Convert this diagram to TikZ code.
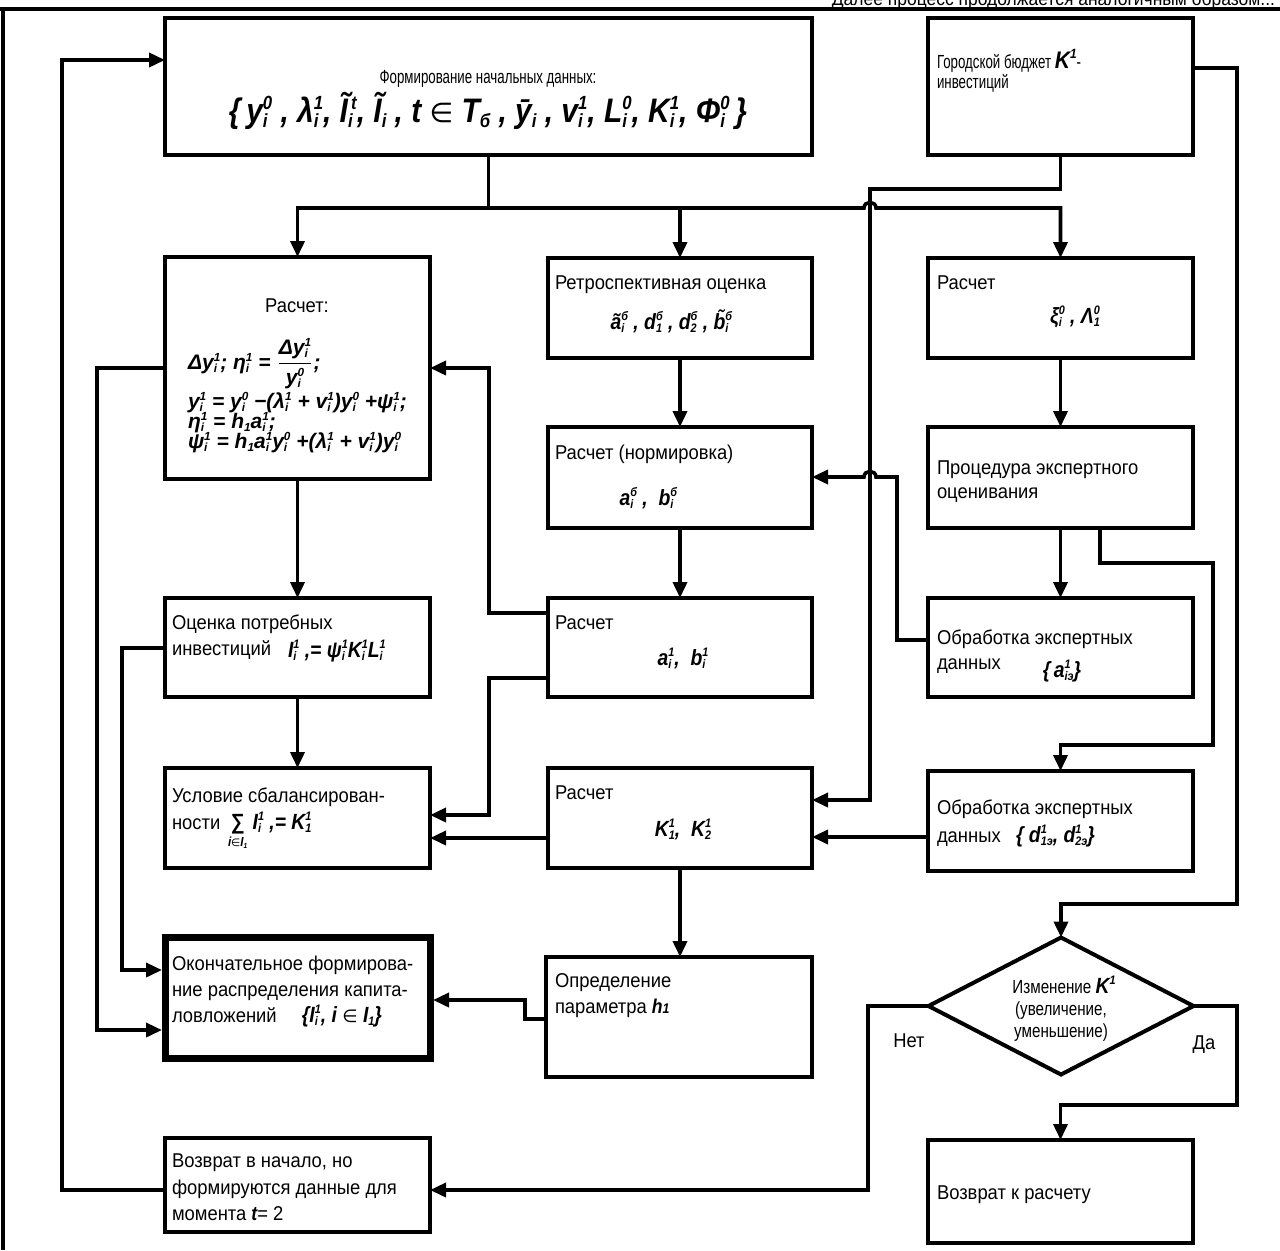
\documentclass[tikz,border=0pt]{standalone}
\usepackage{fontspec}
\setmainfont{Liberation Sans}[FakeStretch=0.92]
\newfontfamily\fm{Liberation Sans}[FakeStretch=0.88]
\newfontfamily\fmw{Liberation Sans}
\newfontfamily\narrowf{Liberation Sans}[FakeStretch=0.7]
\newfontfamily\midf{Liberation Sans}[FakeStretch=0.8]
\newfontfamily\dv{DejaVu Sans}
\usepackage{graphicx}
\usetikzlibrary{arrows.meta,calc,shapes.geometric}

\newsavebox\supbx
\newsavebox\subbx
\newcommand\V[3]{#1\sbox\supbx{\scalebox{.56}{#2}}\sbox\subbx{\scalebox{.56}{#3}}\rlap{\raisebox{.38em}{\usebox\supbx}}\rlap{\raisebox{-.17em}{\usebox\subbx}}\ifdim\wd\supbx>\wd\subbx\hspace{\wd\supbx}\else\hspace{\wd\subbx}\fi}
\newcommand\F{\fm\bfseries\itshape}
\newcommand\inn{{\dv\mdseries\upshape\scalebox{.8}{∈}}}
\newcommand\mkbox[6][]{\node[box,#1,minimum width={(#4-#2)*0.5pt},minimum height={(#5-#3)*0.5pt}] (#6) at ({(#2+#4)/2},{(#3+#5)/2}) {};}

\tikzset{
  box/.style={draw, line width=2pt, inner sep=0pt, outer sep=0pt},
  txt/.style={inner sep=0pt, outer sep=0pt, font=\fontsize{10}{13}\selectfont},
  small/.style={inner sep=0pt, outer sep=0pt, font=\narrowf\fontsize{9.5}{11}\selectfont},
  dia/.style={inner sep=0pt, outer sep=0pt, font=\midf\fontsize{9.5}{11}\selectfont},
  frm/.style={inner sep=0pt, outer sep=0pt, font=\F\fontsize{11}{13}\selectfont},
  frmc/.style={inner sep=0pt, outer sep=0pt, font=\fmw\bfseries\itshape\fontsize{10.5}{13}\selectfont},
  line/.style={line width=1.8pt},
  arr/.style={line width=1.8pt, -{Triangle[length=8pt,width=7pt]}},
}

\begin{document}
\begin{tikzpicture}[x=0.5pt,y=-0.5pt]
\useasboundingbox (0,0) rectangle (1280,1250);
\fill[white] (0,0) rectangle (1280,1250);

% frame
\draw[line width=2pt] (0,9) -- (1280,9);
\draw[line width=1.6pt] (3,9) -- (3,1250);
\node[txt, font=\fontsize{9.5}{11}\selectfont, anchor=base east] (cut) at (1275,5) {Далее процесс продолжается аналогичным образом...};

% boxes
\mkbox{165}{18}{812}{155}{A}
\mkbox{928}{18}{1193}{155}{B}
\mkbox{165}{257}{430}{479}{C}
\mkbox{548}{258}{812}{358}{D}
\mkbox{928}{258}{1193}{358}{E}
\mkbox{548}{427}{812}{528}{F}
\mkbox{928}{427}{1193}{528}{G}
\mkbox{165}{598}{430}{697}{H}
\mkbox{548}{598}{812}{697}{I}
\mkbox{928}{598}{1193}{697}{J}
\mkbox{165}{768}{430}{868}{K}
\mkbox{548}{768}{812}{868}{L}
\mkbox{928}{771}{1193}{871}{M}
\mkbox[line width=3.5pt]{165}{937}{430}{1058}{N}
\mkbox{546}{957}{812}{1077}{O}
\mkbox{165}{1138}{430}{1232}{Q}
\mkbox{928}{1140}{1193}{1243}{R}
\node[draw, diamond, line width=2pt, minimum width=132.5pt, minimum height=68.5pt, inner sep=0pt, outer sep=0pt] (P) at (1061,1006) {};

% texts A
\node[small, anchor=base] (tA1) at (488,83) {Формирование начальных данных:};
\node[frm, font=\F\fontsize{17}{20}\selectfont, anchor=base] (tA2) at (488,122)
  {\{\,\V{y}{0}{i} , \V{λ}{1}{i}, \V{Ĩ}{\,t}{i}, \V{Ĩ}{}{i} , t \inn{} \V{T}{}{б} , \V{\=y}{}{i} , \V{v}{1}{i}, \V{L}{0}{i}, \V{K}{1}{i}, \V{Φ}{0}{i}\,\}};
% B
\node[small, anchor=base west] (tB1) at (937,68) {Городской бюджет {\F\fontsize{12}{13}\selectfont\V{K}{1}{}}-};
\node[small, anchor=base west] (tB2) at (937,88) {инвестиций};
% C
\node[txt, anchor=base] (tC0) at (297,312) {Расчет:};
\node[frmc, anchor=base west] (tC1) at (188,369) {\V{Δy}{1}{i}; \V{η}{1}{i} = $\displaystyle\frac{\mbox{\V{Δy}{1}{i}}}{\mbox{\V{y}{0}{i}}}$;};
\node[frmc, anchor=base west] (tC2) at (188,408) {\V{y}{1}{i} = \V{y}{0}{i} −(\V{λ}{1}{i} + \V{v}{1}{i})\V{y}{0}{i} +\V{ψ}{1}{i};};
\node[frmc, anchor=base west] (tC3) at (188,428) {\V{η}{1}{i} = \V{h}{}{1}\V{a}{1}{i};};
\node[frmc, anchor=base west] (tC4) at (188,448) {\V{ψ}{1}{i} = \V{h}{}{1}\V{a}{1}{i}\V{y}{0}{i} +(\V{λ}{1}{i} + \V{v}{1}{i})\V{y}{0}{i}};
% D
\node[txt, anchor=base west] (tD1) at (555,289) {Ретроспективная оценка};
\node[frm, anchor=base] (tD2) at (668,329) {\V{ã}{б}{i} , \V{d}{б}{1} , \V{d}{б}{2} , \V{\~b}{б}{i}};
% E
\node[txt, anchor=base west] (tE1) at (937,289) {Расчет};
\node[frm, anchor=base] (tE2) at (1072,323) {\V{ξ}{0}{i} , \V{Λ}{0}{1}};
% F
\node[txt, anchor=base west] (tF1) at (555,459) {Расчет (нормировка)};
\node[frm, anchor=base] (tF2) at (645,505) {\V{a}{б}{i} ,\ \ \V{b}{б}{i}};
% G
\node[txt, anchor=base west] (tG1) at (937,474) {Процедура экспертного};
\node[txt, anchor=base west] (tG2) at (937,498) {оценивания};
% H
\node[txt, anchor=base west] (tH1) at (172,629) {Оценка потребных};
\node[txt, anchor=base west] (tH2) at (172,655) {инвестиций};
\node[frm, anchor=base west] (tH3) at (288,657) {\V{I}{1}{i} ,= \V{ψ}{1}{i}\V{K}{1}{i}\V{L}{1}{i}};
% I
\node[txt, anchor=base west] (tI1) at (555,629) {Расчет};
\node[frm, anchor=base] (tI2) at (680,665) {\V{a}{1}{i},\ \ \V{b}{1}{i}};
% J
\node[txt, anchor=base west] (tJ1) at (937,644) {Обработка экспертных};
\node[txt, anchor=base west] (tJ2) at (937,669) {данных};
\node[frm, anchor=base] (tJ3) at (1062,677) {\{\,\V{a}{1}{iэ}\}};
% K
\node[txt, anchor=base west] (tK1) at (172,802) {Условие сбалансирован-};
\node[txt, anchor=base west] (tK2) at (172,829) {ности};
\node[frm, anchor=base west] (tK3) at (228,829) {$\mathop{\mbox{∑}}\limits_{\mbox{\scalebox{.6}{i\inn\V{I}{}{1}}}}$ \V{I}{1}{i} ,= \V{K}{1}{1}};
% L
\node[txt, anchor=base west] (tL1) at (555,799) {Расчет};
\node[frm, anchor=base] (tL2) at (680,836) {\V{K}{1}{1},\ \ \V{K}{1}{2}};
% M
\node[txt, anchor=base west] (tM1) at (937,814) {Обработка экспертных};
\node[txt, anchor=base west] (tM2) at (937,842) {данных\ \ \ {\F\fontsize{11}{13}\selectfont\{ \V{d}{1}{1э}, \V{d}{1}{2э}\}}};
% N
\node[txt, anchor=base west] (tN1) at (172,970) {Окончательное формирова-};
\node[txt, anchor=base west] (tN2) at (172,996) {ние распределения капита-};
\node[txt, anchor=base west] (tN3) at (172,1022) {ловложений\quad\ {\F\fontsize{11}{13}\selectfont\{\V{I}{1}{i}, i \inn{} \V{I}{}{1}\}}};
% O
\node[txt, anchor=base west] (tO1) at (555,987) {Определение};
\node[txt, anchor=base west] (tO2) at (555,1013) {параметра {\F h\scalebox{.7}{1}}};
% Q
\node[txt, anchor=base west] (tQ1) at (172,1167) {Возврат в начало, но};
\node[txt, anchor=base west] (tQ2) at (172,1194) {формируются данные для};
\node[txt, anchor=base west] (tQ3) at (172,1220) {момента {\F t}= 2};
% R
\node[txt, anchor=base west] (tR1) at (937,1199) {Возврат к расчету};
% P
\node[dia, anchor=base] (tP1) at (1061,993) {Изменение {\F\fontsize{11}{12}\selectfont\V{K}{1}{}}};
\node[dia, anchor=base] (tP2) at (1061,1015) {(увеличение,};
\node[dia, anchor=base] (tP3) at (1061,1037) {уменьшение)};
\node[txt, anchor=base] (net) at (909,1047) {Нет};
\node[txt, anchor=base] (da) at (1204,1049) {Да};

% connectors
\draw[arr] ($(Q.north west)+(0,52)$) -- (62,1190) -- (62,60) -- ($(A.north west)+(0,42)$);
\draw[line] (A.south) -- ++(0,53) coordinate (s1);
\draw[arr] (s1) -| (C.north);
\draw[arr] (s1) -| (D.north);
\draw[arr] (s1) -- (864,208) to[out=90,in=90,looseness=1.6] (876,208) -| (E.north);
\draw[arr] (B.south) |- (870,189) -- (870,800) -- ($(L.north east)+(0,32)$);
\draw[arr] (D.south) -- (F.north);
\draw[arr] (E.south) -- (G.north);
\draw[arr] (F.south) -- (I.north);
\draw[arr] (G.south) -- (J.north);
\draw[arr] ($(G.south west)+(172,0)$) -- (1100,563) -- (1213,563) -- (1213,745) -| (M.north);
\draw[arr] ($(J.north west)+(0,42)$) -- (897,640) -- (897,477) -- (876,477) to[out=90,in=90,looseness=1.6] (864,477) -- ($(F.north east)+(0,50)$);
\draw[arr] ($(I.north west)+(0,15)$) -- (489,613) -- (489,368) -- ($(C.north east)+(0,111)$);
\draw[arr] ($(I.north west)+(0,80)$) -- (489,678) -- (489,815) -- ($(K.north east)+(0,47)$);
\draw[arr] ($(L.north west)+(0,70)$) -- ($(K.north east)+(0,70)$);
\draw[arr] ($(M.north west)+(0,66)$) -- ($(L.north east)+(0,69)$);
\draw[arr] (L.south) -- (O.north -| L.south);
\draw[arr] ($(O.north west)+(0,62)$) -- (525,1019) -- (525,1000) -- ($(N.north east)+(3,63)$);
\draw[arr] (H.south) -- (K.north);
\draw[arr] (C.south) -- (H.north);
\draw[arr] ($(C.north west)+(0,111)$) -- (97,368) -- (97,1030) -- ($(N.north west)+(-3,93)$);
\draw[arr] ($(H.north west)+(0,50)$) -- (122,648) -- (122,970) -- ($(N.north west)+(-3,33)$);
\draw[arr] ($(B.north east)+(0,50)$) -- (1237,68) -- (1237,904) -| (P.north);
\draw[arr] (P.west) -- (868,1006) -- (868,1190) -- ($(Q.north east)+(0,52)$);
\draw[arr] (P.east) -- (1237,1006) -- (1237,1105) -| (R.north);
\end{tikzpicture}
\end{document}
